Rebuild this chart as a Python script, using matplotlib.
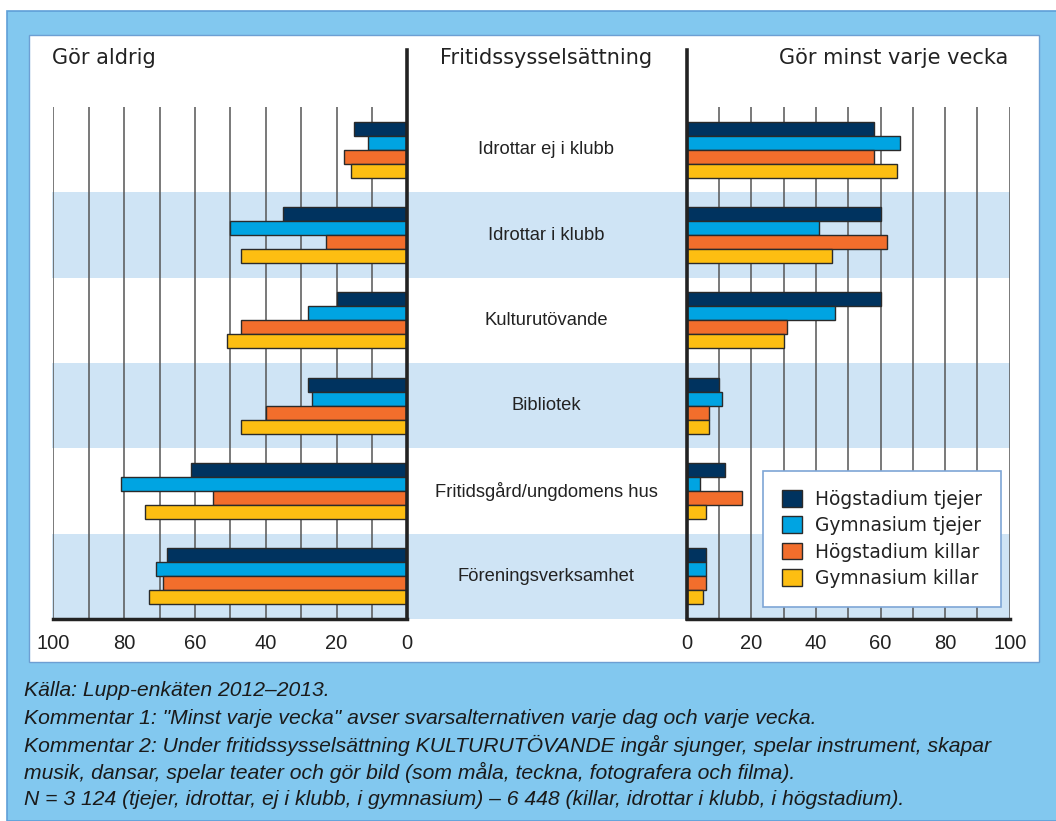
import numpy as np
import matplotlib.pyplot as plt
from matplotlib.patches import Rectangle

# Data (percent)
categories = ["Idrottar ej i klubb", "Idrottar i klubb", "Kulturutövande",
              "Bibliotek", "Fritidsgård/ungdomens hus", "Föreningsverksamhet"]
series_names = ["Högstadium tjejer", "Gymnasium tjejer",
                "Högstadium killar", "Gymnasium killar"]
colors = ["#00335f", "#00a4e2", "#f26e2c", "#fdbe12"]

# "Gör aldrig"
never_hog_tj = [15, 35, 20, 28, 61, 68]
never_gym_tj = [11, 50, 28, 27, 81, 71]
never_hog_ki = [18, 23, 47, 40, 55, 69]
never_gym_ki = [16, 47, 51, 47, 74, 73]

# "Gör minst varje vecka"
weekly_hog_tj = [58, 60, 60, 10, 12, 6]
weekly_gym_tj = [66, 41, 46, 11, 4, 6]
weekly_hog_ki = [58, 62, 31, 7, 17, 6]
weekly_gym_ki = [65, 45, 30, 7, 6, 5]

never = [never_hog_tj, never_gym_tj, never_hog_ki, never_gym_ki]
weekly = [weekly_hog_tj, weekly_gym_tj, weekly_hog_ki, weekly_gym_ki]

W, H = 1056, 821
fig = plt.figure(figsize=(W / 100, H / 100), dpi=100)
fig.patch.set_facecolor("white")

def fx(px):
    return px / W

def fy(py):
    return 1 - py / H

# frame and white panel
fig.add_artist(Rectangle((fx(7), 0), fx(W + 10) - fx(7), fy(11),
                         transform=fig.transFigure, facecolor="#82c8ef",
                         edgecolor="#5f9fd8", lw=1.2, zorder=-10))
fig.add_artist(Rectangle((fx(29), fy(662)), fx(1039) - fx(29), fy(35) - fy(662),
                         transform=fig.transFigure, facecolor="white",
                         edgecolor="#6d9fd3", lw=1.0, zorder=-9))

top, bottom = 107, 619
n = len(categories)
ypos = np.arange(n)[::-1]
bar_h = 0.165
offsets = [1.5 * bar_h, 0.5 * bar_h, -0.5 * bar_h, -1.5 * bar_h]

# background bands
ax_bg = fig.add_axes([fx(52), fy(bottom), fx(1010) - fx(52), fy(top) - fy(bottom)])
ax_bg.set_xlim(0, 1)
ax_bg.set_ylim(-0.5, n - 0.5)
for i, y in enumerate(ypos):
    if i % 2 == 1:
        ax_bg.axhspan(y - 0.5, y + 0.5, color="#cfe4f5", lw=0)
xc = (546 - 52) / (1010 - 52)
for y, cat in zip(ypos, categories):
    ax_bg.text(xc, y, cat, ha="center", va="center", fontsize=13.2,
               family="Liberation Sans", color="#222222", zorder=5)
ax_bg.axis("off")

def setup(ax, inverted):
    ax.set_facecolor("none")
    ax.set_ylim(-0.5, n - 0.5)
    if inverted:
        ax.set_xlim(100, 0)
    else:
        ax.set_xlim(0, 100)
    ax.set_xticks(np.arange(0, 101, 20))
    ax.set_xticks(np.arange(0, 101, 10), minor=True)
    ax.set_yticks([])
    ax.grid(True, axis="x", which="both", color="#555555", lw=1.1)
    ax.set_axisbelow(True)
    for s in ax.spines.values():
        s.set_visible(False)
    ax.spines["bottom"].set_visible(True)
    ax.spines["bottom"].set_linewidth(2.5)
    ax.spines["bottom"].set_color("#222222")
    ax.tick_params(axis="x", which="both", length=0, pad=11,
                   labelsize=14.5, labelcolor="#222222",
                   labelfontfamily="Liberation Sans")
    ax.axvline(0, ymin=0, ymax=1 + 57 / (bottom - top), color="#222222",
               lw=2.6, clip_on=False, zorder=4)

ax_l = fig.add_axes([fx(53.3), fy(bottom), fx(407.3) - fx(53.3), fy(top) - fy(bottom)])
ax_r = fig.add_axes([fx(686.7), fy(bottom), fx(1009.7) - fx(686.7), fy(top) - fy(bottom)])
setup(ax_l, True)
setup(ax_r, False)

handles = []
for k in range(4):
    ax_l.barh(ypos + offsets[k], never[k], height=bar_h, color=colors[k],
              edgecolor="#2a2a2a", lw=1.0, zorder=3)
    b = ax_r.barh(ypos + offsets[k], weekly[k], height=bar_h, color=colors[k],
                  edgecolor="#2a2a2a", lw=1.0, zorder=3, label=series_names[k])
    handles.append(b)

leg = ax_r.legend(handles=handles, loc="upper left",
                  bbox_to_anchor=(fx(763), fy(471)), bbox_transform=fig.transFigure,
                  borderaxespad=0, fontsize=13.4, frameon=True, fancybox=False,
                  handlelength=1.07, handleheight=1.0, handletextpad=0.75,
                  labelspacing=0.4, borderpad=1.0)
leg.get_frame().set_edgecolor("#7ea6d6")
leg.get_frame().set_linewidth(1.2)
leg.get_frame().set_facecolor("white")
leg.get_frame().set_alpha(1)
leg.set_zorder(10)
for t in leg.get_texts():
    t.set_color("#222222")

# headers
fig.text(fx(52), fy(58), "Gör aldrig", fontsize=15, ha="left", va="center", color="#222222")
fig.text(fx(546), fy(58), "Fritidssysselsättning", fontsize=15, ha="center", va="center", color="#222222")
fig.text(fx(1008), fy(58), "Gör minst varje vecka", fontsize=15, ha="right", va="center", color="#222222")

# footer
notes = [
    "Källa: Lupp-enkäten 2012–2013.",
    "Kommentar 1: \"Minst varje vecka\" avser svarsalternativen varje dag och varje vecka.",
    "Kommentar 2: Under fritidssysselsättning KULTURUTÖVANDE ingår sjunger, spelar instrument, skapar",
    "musik, dansar, spelar teater och gör bild (som måla, teckna, fotografera och filma).",
    "N = 3 124 (tjejer, idrottar, ej i klubb, i gymnasium) – 6 448 (killar, idrottar i klubb, i högstadium).",
]
for i, line in enumerate(notes):
    fig.text(fx(24), fy(691 + i * 27), line, fontsize=15.2, style="italic",
             family="Liberation Sans", ha="left", va="center", color="#1a1a1a")

fig.savefig("out.png", dpi=100)
